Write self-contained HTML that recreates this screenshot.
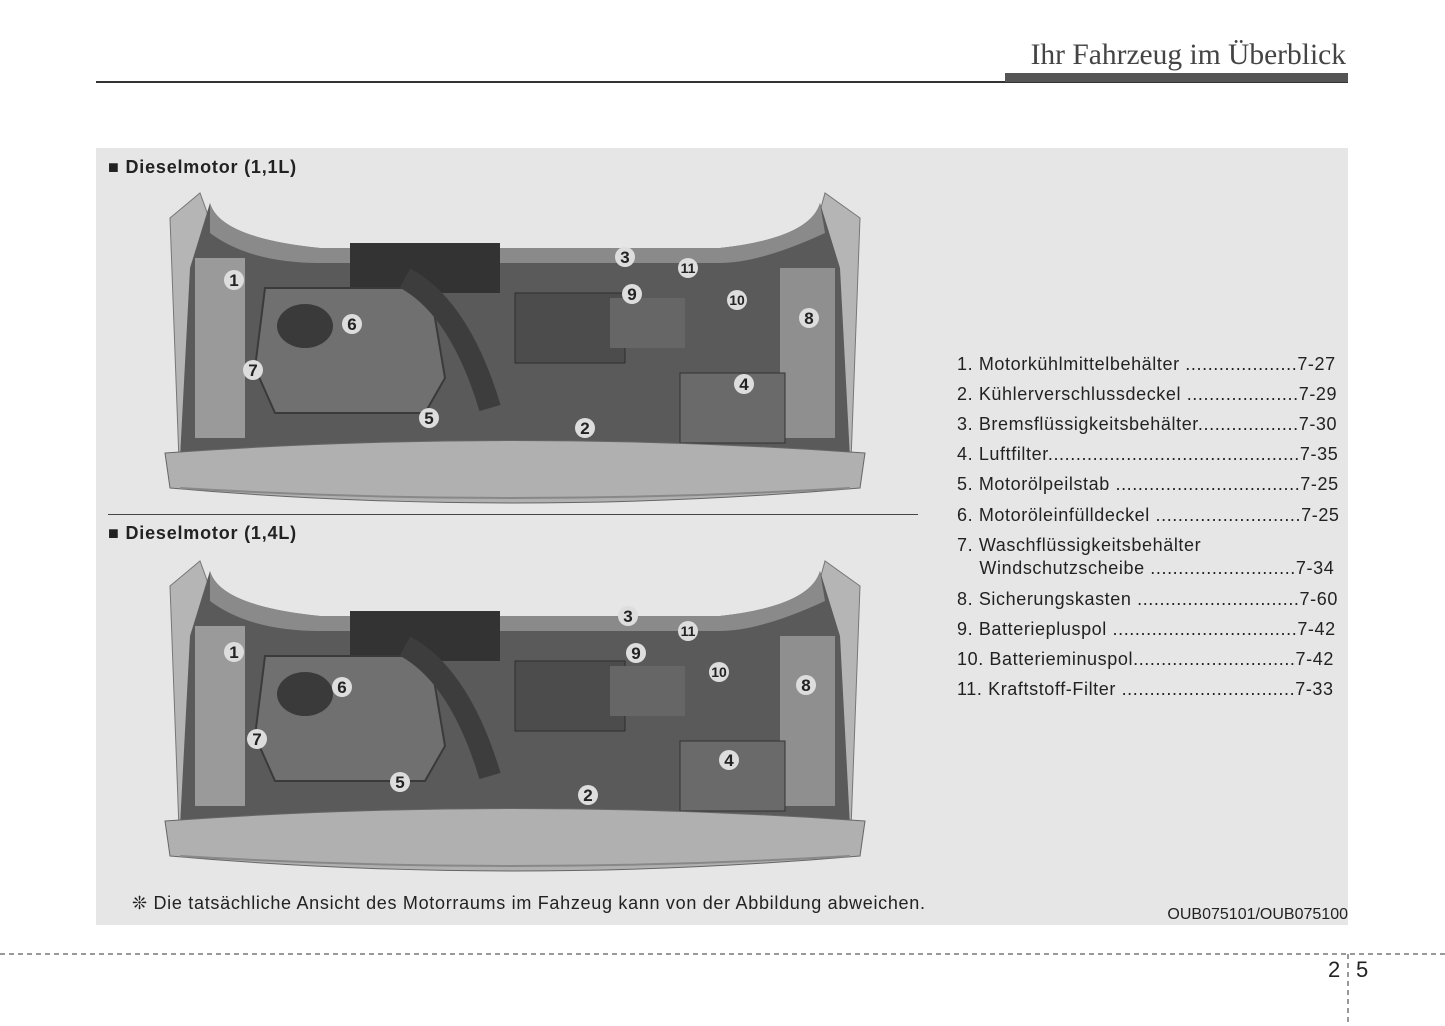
<!DOCTYPE html>
<html><head><meta charset="utf-8"><style>
body{margin:0;width:1445px;height:1026px;background:#fff;position:relative;font-family:"Liberation Sans",sans-serif;overflow:hidden}
.a{position:absolute}
.li{position:absolute;left:957px;font-size:18px;color:#222;white-space:pre;letter-spacing:0.6px}
</style></head><body>
<div class="a" style="left:96px;top:81px;width:1252px;height:1.5px;background:#333"></div>
<div class="a" style="left:1005px;top:73px;width:343px;height:9px;background:#555"></div>
<div class="a" style="right:99px;top:39px;font-family:'Liberation Serif',serif;font-size:29.5px;color:#444">Ihr Fahrzeug im Überblick</div>
<div class="a" style="left:96px;top:148px;width:1252px;height:777px;background:#e6e6e6"></div>
<div class="a" style="left:108px;top:157px;font-size:18px;font-weight:bold;color:#222;letter-spacing:0.8px">■ Dieselmotor (1,1L)</div>
<div class="a" style="left:108px;top:523px;font-size:18px;font-weight:bold;color:#222;letter-spacing:0.8px">■ Dieselmotor (1,4L)</div>
<div class="a" style="left:108px;top:514px;width:810px;height:1px;background:#444"></div>

<svg class="a" style="left:0;top:0" width="1445" height="1026">
<defs>
<g id="eng">
<path d="M10,30 L40,5 L60,60 L55,280 L20,300 Z" fill="#b5b5b5" stroke="#777"/>
<path d="M700,30 L665,5 L650,60 L655,280 L690,300 Z" fill="#b5b5b5" stroke="#777"/>
<path d="M50,15 Q60,50 160,60 L560,60 Q650,50 660,15 L680,80 L690,270 L20,270 L30,80 Z" fill="#5a5a5a"/>
<path d="M50,15 Q60,50 160,60 L560,60 Q650,50 660,15 L665,45 Q600,75 560,75 L160,75 Q90,75 50,45 Z" fill="#8a8a8a"/>
<rect x="35" y="70" width="50" height="180" fill="#9a9a9a"/>
<rect x="620" y="80" width="55" height="170" fill="#8f8f8f"/>
<rect x="190" y="55" width="150" height="50" fill="#333"/>
<path d="M105,100 L270,100 L285,190 L265,225 L115,225 L95,180 Z" fill="#707070" stroke="#3a3a3a" stroke-width="2"/>
<ellipse cx="145" cy="138" rx="28" ry="22" fill="#3a3a3a"/>
<path d="M245,90 Q300,120 330,220" stroke="#3d3d3d" stroke-width="22" fill="none"/>
<rect x="355" y="105" width="110" height="70" fill="#4c4c4c" stroke="#2e2e2e"/>
<rect x="520" y="185" width="105" height="70" fill="#6a6a6a" stroke="#333"/>
<rect x="450" y="110" width="75" height="50" fill="#666"/>
<path d="M5,265 Q350,240 705,265 L700,300 Q350,330 10,300 Z" fill="#b0b0b0" stroke="#666"/>
<path d="M20,300 Q350,320 690,300" stroke="#888" fill="none" stroke-width="2"/>
</g>
<style>.n{font:bold 17px "Liberation Sans",sans-serif;fill:#222;text-anchor:middle}.s{font-size:14px}</style>
</defs>
<use href="#eng" x="160" y="188"/>
<use href="#eng" x="160" y="556"/>
<g fill="#ddd">
<circle cx="234" cy="280" r="10"/><text class="n" x="234" y="286">1</text>
<circle cx="585" cy="428" r="10"/><text x="585" y="434" class="n">2</text>
<circle cx="625" cy="257" r="10"/><text x="625" y="263" class="n">3</text>
<circle cx="744" cy="384" r="10"/><text x="744" y="390" class="n">4</text>
<circle cx="429" cy="418" r="10"/><text x="429" y="424" class="n">5</text>
<circle cx="352" cy="324" r="10"/><text x="352" y="330" class="n">6</text>
<circle cx="253" cy="370" r="10"/><text x="253" y="376" class="n">7</text>
<circle cx="809" cy="318" r="10"/><text x="809" y="324" class="n">8</text>
<circle cx="632" cy="294" r="10"/><text x="632" y="300" class="n">9</text>
<circle cx="737" cy="300" r="10"/><text x="737" y="305" class="n s">10</text>
<circle cx="688" cy="268" r="10"/><text x="688" y="273" class="n s">11</text>

<circle cx="234" cy="652" r="10"/><text x="234" y="658" class="n">1</text>
<circle cx="588" cy="795" r="10"/><text x="588" y="801" class="n">2</text>
<circle cx="628" cy="616" r="10"/><text x="628" y="622" class="n">3</text>
<circle cx="729" cy="760" r="10"/><text x="729" y="766" class="n">4</text>
<circle cx="400" cy="782" r="10"/><text x="400" y="788" class="n">5</text>
<circle cx="342" cy="687" r="10"/><text x="342" y="693" class="n">6</text>
<circle cx="257" cy="739" r="10"/><text x="257" y="745" class="n">7</text>
<circle cx="806" cy="685" r="10"/><text x="806" y="691" class="n">8</text>
<circle cx="636" cy="653" r="10"/><text x="636" y="659" class="n">9</text>
<circle cx="719" cy="672" r="10"/><text x="719" y="677" class="n s">10</text>
<circle cx="688" cy="631" r="10"/><text x="688" y="636" class="n s">11</text>
</g>
<line x1="0" y1="954" x2="1445" y2="954" stroke="#333" stroke-dasharray="5,4"/>
<line x1="1348" y1="954" x2="1348" y2="1026" stroke="#333" stroke-dasharray="5,4"/>
</svg>

<div class="li" style="top:354px">1. Motorkühlmittelbehälter ....................7-27</div>
<div class="li" style="top:384px">2. Kühlerverschlussdeckel ....................7-29</div>
<div class="li" style="top:414px">3. Bremsflüssigkeitsbehälter..................7-30</div>
<div class="li" style="top:444px">4. Luftfilter.............................................7-35</div>
<div class="li" style="top:474px">5. Motorölpeilstab .................................7-25</div>
<div class="li" style="top:505px">6. Motoröleinfülldeckel ..........................7-25</div>
<div class="li" style="top:535px">7. Waschflüssigkeitsbehälter</div>
<div class="li" style="top:558px">    Windschutzscheibe ..........................7-34</div>
<div class="li" style="top:589px">8. Sicherungskasten .............................7-60</div>
<div class="li" style="top:619px">9. Batteriepluspol .................................7-42</div>
<div class="li" style="top:649px">10. Batterieminuspol.............................7-42</div>
<div class="li" style="top:679px">11. Kraftstoff-Filter ...............................7-33</div>

<div class="a" style="left:132px;top:893px;font-size:18px;color:#222;letter-spacing:0.7px">❊ Die tatsächliche Ansicht des Motorraums im Fahzeug kann von der Abbildung abweichen.</div>
<div class="a" style="right:97px;top:906px;font-size:16px;color:#222">OUB075101/OUB075100</div>
<div class="a" style="left:1328px;top:957px;font-size:22px;color:#222">2</div>
<div class="a" style="left:1356px;top:957px;font-size:22px;color:#222">5</div>
</body></html>
